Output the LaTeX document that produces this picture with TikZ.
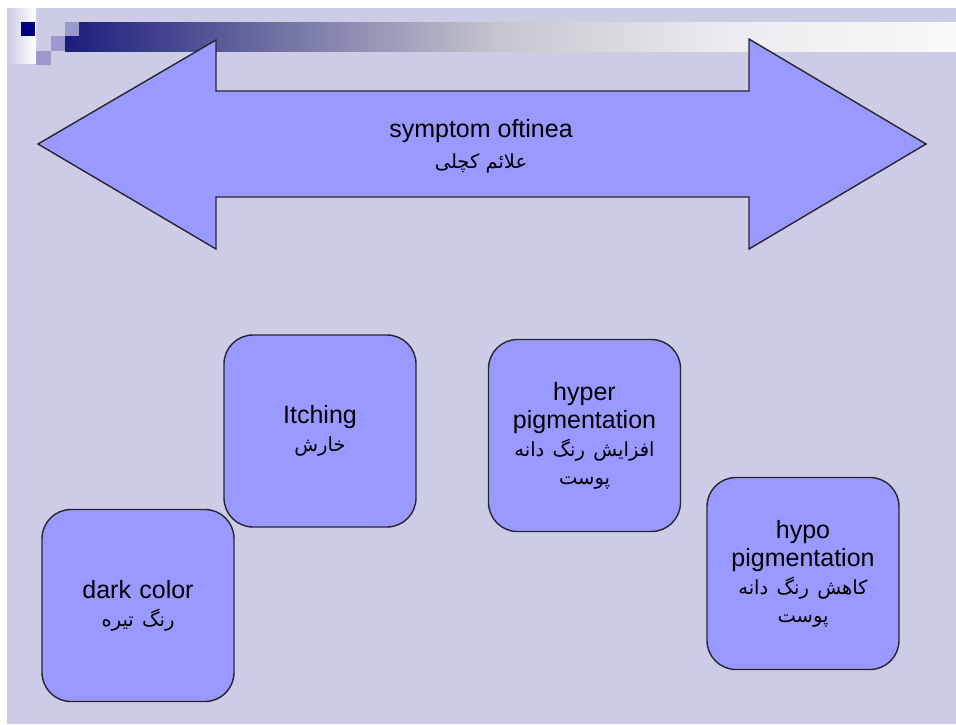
\documentclass[tikz,border=0pt]{standalone}
\usepackage{fontspec}
\setmainfont{Liberation Sans}
\newfontfamily\arabicfont[Script=Arabic]{DejaVu Sans}
\TeXXeTstate=1
\definecolor{slidebg}{HTML}{CCCCE6}
\definecolor{shapefill}{HTML}{9999FF}
\definecolor{edgegray}{HTML}{26262E}
\definecolor{navy}{HTML}{000080}
\definecolor{barnavy}{HTML}{1C1C7C}
\definecolor{tilelight}{HTML}{9999CC}
\newcommand{\fa}[1]{{\arabicfont\fontsize{19.5}{28}\selectfont\beginR #1\endR}}
\tikzset{
  card/.style={draw=edgegray, line width=1.4pt, fill=shapefill,
    rounded corners=29pt, minimum width=192pt, minimum height=192pt,
    inner sep=0pt, align=center, text width=186pt,
    font=\fontsize{25}{28}\selectfont},
  banner/.style={draw=edgegray, line width=1.4pt, fill=shapefill, line join=miter},
  caption/.style={align=center, inner sep=0pt, font=\fontsize{25}{31}\selectfont}
}
\begin{document}
\begin{tikzpicture}[x=1pt, y=-1pt]
\useasboundingbox (0,0) rectangle (956,724);
% page and slide background
\fill[white] (0,0) rectangle (956,724);
\fill[slidebg] (7,8) rectangle (956,724);
% title bar ornament
\shade[left color=slidebg, right color=white] (7,8) rectangle (36,63);
\shade[left color=barnavy, right color=barnavy!55!white!80!gray] (65,22) rectangle (320,51);
\shade[left color=barnavy!55!white!80!gray, right color={rgb,255:red,198;green,198;blue,208}] (320,22) rectangle (500.5,51);
\shade[left color={rgb,255:red,198;green,198;blue,208}, right color={rgb,255:red,236;green,236;blue,240}] (500,22) rectangle (730.5,51);
\shade[left color={rgb,255:red,236;green,236;blue,240}, right color={rgb,255:red,249;green,249;blue,249}] (730,22) rectangle (956,51);
\fill[slidebg] (65,8) rectangle (79,22);
\fill[tilelight] (65,22) rectangle (79,36);
\fill[tilelight] (51,36) rectangle (65,51);
\fill[tilelight] (36,51) rectangle (51,65);
\fill[navy] (21,22) rectangle (35,36);
% double-headed banner arrow
\draw[banner] (38,144) -- (216,40) -- (216,91) -- (749,91) -- (749,39)
  -- (926,144) -- (749,249) -- (749,197) -- (216,197) -- (216,249) -- cycle;
\node[caption] (title) at (481,146) {symptom oftinea\\\fa{علائم کچلی}};
% symptom cards
\node[card] (itching) at (320,431) {Itching\\\fa{خارش}};
\node[card] (hyper) at (584.5,435.5) {hyper\\pigmentation\\\fa{افزایش رنگ دانه}\\\fa{پوست}};
\node[card] (hypo) at (803,573.5) {hypo\\pigmentation\\\fa{کاهش رنگ دانه}\\\fa{پوست}};
\node[card] (dark) at (138,605.5) {dark color\\\fa{رنگ تیره}};
\end{tikzpicture}
\end{document}
